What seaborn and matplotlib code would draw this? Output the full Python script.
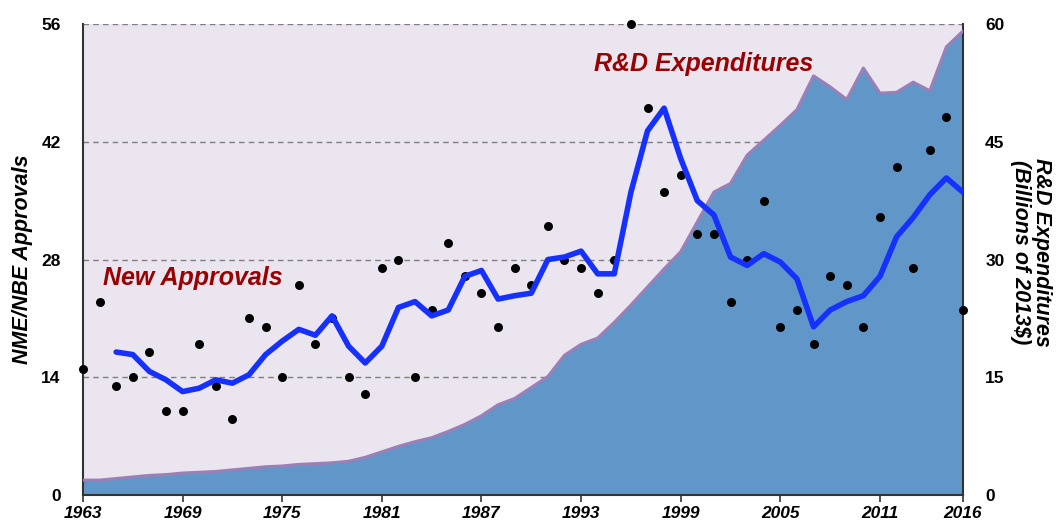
import matplotlib
matplotlib.use('Agg')
import matplotlib.pyplot as plt
import seaborn as sns

# NME/NBE approvals per year
years = list(range(1963, 2017))
approvals = [15, 23, 13, 14, 17, 10, 10, 18, 13, 9,
             21, 20, 14, 25, 18, 21, 14, 12, 27, 28,
             14, 22, 30, 26, 24, 20, 27, 25, 32, 28,
             27, 24, 28, 56, 46, 36, 38, 31, 31, 23,
             28, 35, 20, 22, 18, 26, 25, 20, 33, 39,
             27, 41, 45, 22]

# 3-year average line (starts 1965)
avg_years = list(range(1965, 2017))
approvals_avg = [17.0, 16.7, 14.7, 13.7, 12.3, 12.7, 13.7, 13.3, 14.3, 16.7,
                 18.3, 19.7, 19.0, 21.3, 17.7, 15.7, 17.7, 22.3, 23.0, 21.3,
                 22.0, 26.0, 26.7, 23.3, 23.7, 24.0, 28.0, 28.3, 29.0, 26.3,
                 26.3, 36.0, 43.3, 46.0, 40.0, 35.0, 33.3, 28.3, 27.3, 28.7,
                 27.7, 25.7, 20.0, 22.0, 23.0, 23.7, 26.0, 30.7, 33.0, 35.7,
                 37.7, 36.0]

# R&D expenditures, billions of 2013$
rd_spend = [1.9, 1.9, 2.1, 2.3, 2.5, 2.6, 2.8, 2.9, 3.0, 3.2,
            3.4, 3.6, 3.7, 3.9, 4.0, 4.1, 4.3, 4.8, 5.5, 6.2,
            6.8, 7.3, 8.1, 9.0, 10.1, 11.5, 12.3, 13.7, 15.1, 17.8,
            19.2, 20.0, 22.0, 24.2, 26.5, 28.8, 31.0, 34.8, 38.6, 39.7,
            43.3, 45.2, 47.1, 49.1, 53.4, 52.0, 50.4, 54.4, 51.2, 51.3,
            52.6, 51.5, 57.1, 59.1]

x_ticks = [1963, 1969, 1975, 1981, 1987, 1993, 1999, 2005, 2011, 2016]

sns.set_theme(style='white')
plt.rcParams['font.family'] = ['Liberation Sans', 'DejaVu Sans']
plt.rcParams.update({'text.color': 'black', 'axes.labelcolor': 'black',
                     'xtick.color': 'black', 'ytick.color': 'black'})

fig = plt.figure(figsize=(10.58, 5.25), dpi=100)
ax = fig.add_axes([0.0784, 0.0571, 0.8318, 0.8971])

# R&D area (bottom layer, right-hand scale)
ax.set_facecolor('#EBE5F0')
ax.fill_between(years, rd_spend, color='#6096C8', linewidth=0, zorder=2)
sns.lineplot(x=years, y=rd_spend, ax=ax, color='#9A80B6', linewidth=2.2, zorder=3)
ax.set_xlim(1963, 2016)
ax.set_ylim(0, 60)
ax.set_yticks([0, 15, 30, 45, 60])
ax.set_axisbelow(True)
ax.grid(axis='y', color='#7F7F7F', linestyle=(0, (4, 3)), linewidth=1.0)
ax.grid(axis='x', visible=False)
ax.set_xticks(x_ticks)
ax.set_xlabel('')
ax.set_ylabel('')

# approvals (top layer, left-hand scale)
ax2 = ax.twinx()
sns.scatterplot(x=years, y=approvals, ax=ax2, color='black', s=42, linewidth=0,
                clip_on=False, zorder=4)
sns.lineplot(x=avg_years, y=approvals_avg, ax=ax2, color='#1530FF', linewidth=4.0,
             zorder=5)
ax2.set_ylim(0, 56)
ax2.set_yticks([0, 14, 28, 42, 56])

# swap sides: approvals on the left, R&D on the right
ax.yaxis.tick_right()
ax2.yaxis.tick_left()
ax2.yaxis.set_label_position('left')

ax.tick_params(axis='x', direction='out', length=5, width=1.2, color='#333333', pad=3,
               bottom=True, labelsize=12.5)
ax.tick_params(axis='y', length=0, pad=16, labelsize=12.5)
ax2.tick_params(axis='y', length=0, pad=16, labelsize=12.5)
for lbl in ax.get_xticklabels():
    lbl.set_fontweight('bold')
    lbl.set_fontstyle('italic')
for lbl in ax.get_yticklabels() + ax2.get_yticklabels():
    lbl.set_fontweight('bold')
for side in ['left', 'right', 'bottom']:
    ax.spines[side].set_color('#333333')
    ax.spines[side].set_linewidth(1.5)
ax.spines['top'].set_visible(False)
for s in ax2.spines.values():
    s.set_visible(False)

ax2.set_ylabel('NME/NBE Approvals', fontsize=15.5, fontweight='bold', fontstyle='italic')
ax2.yaxis.set_label_coords(-0.057, 0.5)

ax2.text(1964.2, 25.8, 'New Approvals', color='#990000', fontsize=18,
         fontweight='bold', fontstyle='italic', ha='left', va='center')
ax2.text(1993.8, 51.2, 'R&D Expenditures', color='#990000', fontsize=18,
         fontweight='bold', fontstyle='italic', ha='left', va='center')

fig.text(1031 / 1058, 1 - 252 / 525, 'R&D Expenditures\n(Billions of 2013$)',
         rotation=-90, ha='center', va='center', multialignment='center',
         fontsize=15.5, fontweight='bold', fontstyle='italic', linespacing=1.05)

fig.savefig('out.png', dpi=100)
